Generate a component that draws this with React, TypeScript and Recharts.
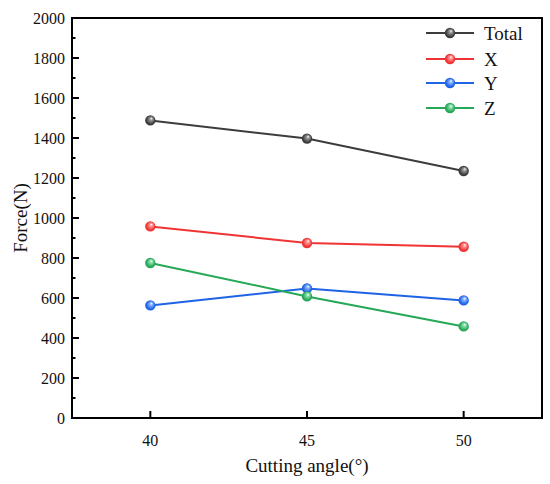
import React from 'react';
import {
  LineChart,
  Line,
  XAxis,
  YAxis,
  ReferenceArea
} from 'recharts';

const angles = [40, 45, 50];
const totalForce = [1488, 1397, 1235];
const xForce = [958, 875, 856];
const yForce = [563, 648, 588];
const zForce = [775, 608, 458];

const xTicks = [40, 45, 50];
const yTicks = [0, 100, 200, 300, 400, 500, 600, 700, 800, 900, 1000, 1100, 1200, 1300, 1400, 1500, 1600, 1700, 1800, 1900, 2000];

const series = [
  { key: 'total', name: 'Total', color: '#3c3c3c', light: '#9a9a9a' },
  { key: 'x', name: 'X', color: '#f03434', light: '#ff9a9a' },
  { key: 'y', name: 'Y', color: '#1f63e6', light: '#8ab4ff' },
  { key: 'z', name: 'Z', color: '#25a857', light: '#8fe0ae' }
];

const chartData = angles.map((angle, i) => ({
  angle,
  total: totalForce[i],
  x: xForce[i],
  y: yForce[i],
  z: zForce[i]
}));

const FONT = '"Liberation Serif", "Times New Roman", serif';
const textStyle = { fontFamily: FONT };

const YTick = (props: any) => {
  const { x, y, payload } = props;
  const major = payload.value % 200 === 0;
  return (
    <g>
      <line x1={x} x2={x + (major ? 7 : 3.5)} y1={y} y2={y} stroke="#000" strokeWidth={2} />
      {major && (
        <text x={x - 7} y={y} dy="0.35em" textAnchor="end" fontSize={16} style={textStyle} fill="#111">
          {payload.value}
        </text>
      )}
    </g>
  );
};

const XTick = (props: any) => {
  const { x, y, payload } = props;
  return (
    <g>
      <line x1={x} x2={x} y1={y} y2={y - 7} stroke="#000" strokeWidth={2} />
      <text x={x} y={y + 22} dy="0.35em" textAnchor="middle" fontSize={16} style={textStyle} fill="#111">
        {payload.value}
      </text>
    </g>
  );
};

const sphere = (id: string) => (props: any) => {
  const { cx, cy, index } = props;
  if (cx == null || cy == null) return <g key={index} />;
  return <circle key={index} cx={cx} cy={cy} r={5.2} fill={`url(#grad-${id})`} stroke="none" />;
};

const ChartLegend = () => (
  <svg width={130} height={100} style={{ position: 'absolute', left: 420, top: 20 }}>
    {series.map((s, i) => {
      const cy = [13, 39, 63, 88][i];
      return (
        <g key={s.key}>
          <line x1={6} x2={54} y1={cy} y2={cy} stroke={s.color} strokeWidth={2} />
          <circle cx={30} cy={cy} r={5.2} fill={`url(#grad-${s.key})`} />
          <text x={64} y={cy} dy="0.35em" fontSize={19} style={textStyle} fill="#111">
            {s.name}
          </text>
        </g>
      );
    })}
  </svg>
);

export default function App() {
  return (
    <div style={{ position: 'absolute', left: 0, top: 0, width: 550, height: 484, background: '#fff' }}>
      <svg width={0} height={0} style={{ position: 'absolute' }}>
        <defs>
          {series.map(s => (
            <radialGradient key={s.key} id={`grad-${s.key}`} cx="0.5" cy="0.5" r="0.55" fx="0.62" fy="0.3">
              <stop offset="0%" stopColor="#ffffff" />
              <stop offset="25%" stopColor={s.light} />
              <stop offset="75%" stopColor={s.color} />
              <stop offset="100%" stopColor={s.color} />
            </radialGradient>
          ))}
        </defs>
      </svg>
      <LineChart width={550} height={484} data={chartData} margin={{ top: 18, right: 8, bottom: 0, left: 0 }}>
        <XAxis
          dataKey="angle"
          type="number"
          domain={[37.5, 52.5]}
          ticks={xTicks}
          tick={<XTick />}
          tickLine={false}
          tickSize={0}
          tickMargin={0}
          height={66}
          axisLine={{ stroke: '#000', strokeWidth: 2 }}
          label={{ value: 'Cutting angle(°)', position: 'insideBottom', offset: 12, fontSize: 19, fill: '#111', style: textStyle }}
        />
        <YAxis
          type="number"
          domain={[0, 2000]}
          ticks={yTicks}
          interval={0}
          tick={<YTick />}
          tickLine={false}
          tickSize={0}
          tickMargin={0}
          width={72}
          axisLine={{ stroke: '#000', strokeWidth: 2 }}
          label={{ value: 'Force(N)', angle: -90, position: 'insideLeft', offset: 20, fontSize: 19, fill: '#111', style: { ...textStyle, textAnchor: 'middle' } }}
        />
        <ReferenceArea x1={37.5} x2={52.5} y1={0} y2={2000} fill="none" stroke="#000" strokeWidth={2} ifOverflow="visible" />
        {series.map(s => (
          <Line
            key={s.key}
            type="linear"
            dataKey={s.key}
            name={s.name}
            stroke={s.color}
            strokeWidth={2}
            dot={sphere(s.key)}
            activeDot={false}
            isAnimationActive={false}
          />
        ))}
      </LineChart>
      <ChartLegend />
    </div>
  );
}
